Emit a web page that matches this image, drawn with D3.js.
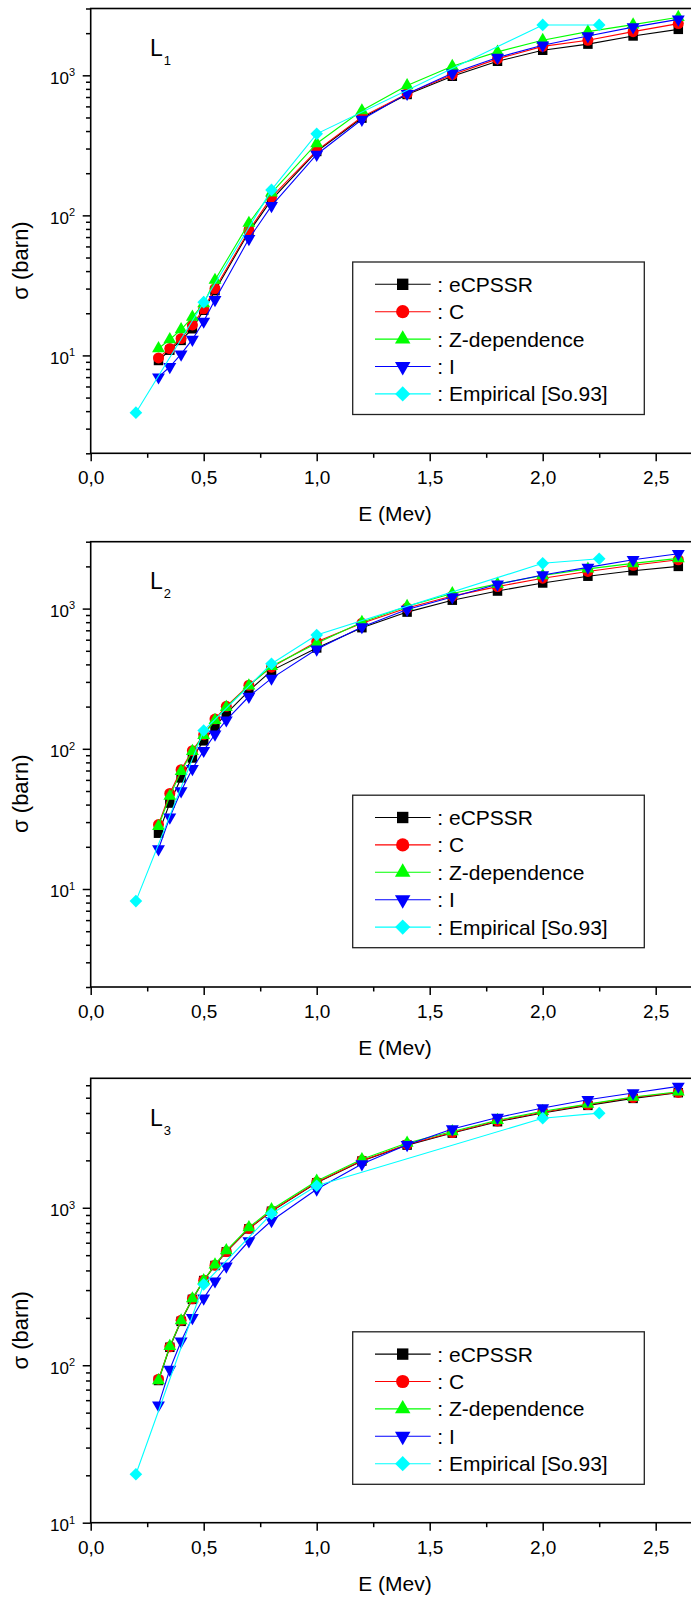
<!DOCTYPE html>
<html>
<head>
<meta charset="utf-8">
<script src="https://cdn.jsdelivr.net/npm/d3@7"></script>
<style>
  body { margin: 0; background: #fff; }
  svg { display: block; font-family: 'Liberation Sans', Arial, sans-serif; }
</style>
</head>
<body>
<div id="chart"></div>
<script>
// L-subshell ionisation cross sections vs proton energy, three panels (L1, L2, L3)

// energies (MeV)
var energiesL1 = [0.3, 0.35, 0.4, 0.45, 0.5, 0.55, 0.7, 0.8, 1.0, 1.2, 1.4, 1.6, 1.8, 2.0, 2.2, 2.4, 2.6]
var energiesL23 = [0.3, 0.35, 0.4, 0.45, 0.5, 0.55, 0.6, 0.7, 0.8, 1.0, 1.2, 1.4, 1.6, 1.8, 2.0, 2.2, 2.4, 2.6]
var energiesEmp = [0.2, 0.5, 0.8, 1.0, 2.0, 2.25]

var seriesNames = ['eCPSSR', 'C', 'Z-dependence', 'I', 'Empirical [So.93]']
var seriesColours = ['#000000', '#ff0000', '#00ff00', '#0000ff', '#00ffff']

var xTicks = [0, 0.5, 1.0, 1.5, 2.0, 2.5]
var yTicks = [10, 100, 1000]

// L1 (barn)
var l1eCPSSR = [9.2, 10.9, 12.8, 15.5, 21, 29, 76, 129, 286, 495, 730, 985, 1260, 1510, 1670, 1910, 2130]
var l1C = [9.6, 11.2, 13.2, 16.5, 21.5, 30, 78, 135, 290, 505, 740, 1010, 1310, 1610, 1780, 2050, 2340]
var l1Z = [11.2, 13, 15.3, 18.8, 23.5, 34.5, 88, 145, 326, 560, 845, 1160, 1470, 1780, 2050, 2300, 2600]
var l1I = [7.0, 8.3, 10.2, 13, 17.5, 25, 68, 117, 272, 484, 740, 1035, 1340, 1640, 1910, 2210, 2510]
var l1Emp = [3.9, 24, 152, 382, 2290, 2290]

// L2 (barn)
var l2eCPSSR = [25, 41, 62, 86, 114, 144, 178, 259, 361, 524, 731, 944, 1148, 1334, 1523, 1702, 1862, 2000]
var l2C = [28.8, 48, 71, 97, 126, 163, 201, 284, 382, 580, 787, 1010, 1228, 1435, 1648, 1841, 2037, 2230]
var l2Z = [28, 46, 69, 96, 125, 160, 198, 282, 388, 565, 800, 1040, 1280, 1500, 1720, 1920, 2100, 2280]
var l2I = [19.3, 32.5, 50, 72, 97, 127, 160, 236, 318, 513, 740, 984, 1208, 1492, 1734, 1968, 2230, 2460]
var l2Emp = [8.2, 135, 404, 648, 2104, 2267]

// L3 (barn)
var l3eCPSSR = [80, 130, 190, 262, 345, 430, 525, 735, 950, 1440, 1980, 2500, 2980, 3520, 4000, 4470, 4950, 5380]
var l3C = [81.5, 131, 193, 264, 347, 432, 527, 739, 955, 1452, 1995, 2523, 3006, 3558, 4043, 4520, 5012, 5400]
var l3Z = [80, 132, 192, 265, 345, 435, 535, 750, 975, 1480, 2030, 2580, 3050, 3600, 4100, 4550, 5050, 5450]
var l3I = [55.8, 94, 142, 200, 266, 342, 425, 615, 827, 1312, 1897, 2512, 3162, 3744, 4299, 4850, 5350, 5900]
var l3Emp = [20.3, 326, 916, 1380, 3706, 3990]

// panel layout
var panels = [
  { sub: '1', top: 8.5, bottom: 453.3, yDomain: [2, 3000],
    xs: [energiesL1, energiesL1, energiesL1, energiesL1, energiesEmp],
    ys: [l1eCPSSR, l1C, l1Z, l1I, l1Emp] },
  { sub: '2', top: 541.7, bottom: 987, yDomain: [2, 3000],
    xs: [energiesL23, energiesL23, energiesL23, energiesL23, energiesEmp],
    ys: [l2eCPSSR, l2C, l2Z, l2I, l2Emp] },
  { sub: '3', top: 1078.3, bottom: 1522.7, yDomain: [10, 6640],
    xs: [energiesL23, energiesL23, energiesL23, energiesL23, energiesEmp],
    ys: [l3eCPSSR, l3C, l3Z, l3I, l3Emp] }
]

var width = 691
var height = 1598
var left = 90.7
var xMax = 2.7

var svg = d3.select('#chart')
  .append('svg')
  .attr('width', width)
  .attr('height', height)

svg.append('rect')
  .attr('width', width)
  .attr('height', height)
  .attr('fill', '#fff')

// x scale shared by the three panels
var x = d3.scaleLinear()
  .domain([0, xMax])
  .range([left, left + xMax * 226])

var xMinor = d3.range(0.25, xMax, 0.5)

// marker for each series
var marker = function (i, scale) {
  var k = scale || 1
  if (i === 0) return d3.symbol(d3.symbolSquare, 90 * k * k)()
  if (i === 1) return d3.symbol(d3.symbolCircle, 95 * k * k)()
  if (i === 2 || i === 3) return d3.symbol(d3.symbolTriangle, 72 * k * k)()
  return d3.symbol(d3.symbolSquare, 80 * k * k)()
}
var markerRotate = function (i) {
  if (i === 3) return ' rotate(180)'
  if (i === 4) return ' rotate(45)'
  return ''
}

var drawPanel = function (p) {
  var y = d3.scaleLog()
    .domain(p.yDomain)
    .range([p.bottom, p.top])

  var g = svg.append('g')

  // minor y ticks (2..9 of each decade)
  var yMinor = []
  for (var dec = 1; dec <= 10000; dec *= 10) {
    for (var m = 2; m <= 9; m++) {
      var v = m * dec
      if (v >= p.yDomain[0] && v <= p.yDomain[1]) yMinor.push(v)
    }
  }

  g.append('g')
    .attr('transform', 'translate(' + left + ',0)')
    .call(d3.axisLeft(y).tickValues(yMinor).tickSize(4.7).tickSizeOuter(0).tickFormat(''))
    .call(function (a) { a.select('.domain').remove() })
    .selectAll('line').attr('stroke-width', 1.5)

  var yAx = g.append('g')
    .attr('transform', 'translate(' + left + ',0)')
    .call(d3.axisLeft(y).tickValues(yTicks).tickSize(8).tickSizeOuter(0).tickFormat(''))
  yAx.select('.domain').remove()
  yAx.selectAll('line').attr('stroke-width', 1.5)

  // 10^n labels
  yAx.selectAll('.tick text')
    .attr('x', -15.7)
    .attr('y', 7.8)
    .attr('dy', null)
    .attr('fill', '#000')
    .style('font-size', '17px')
    .style('text-anchor', 'end')
    .each(function (d) {
      var t = d3.select(this)
      t.append('tspan').text('10')
      t.append('tspan')
        .attr('dy', -7.5)
        .style('font-size', '11px')
        .text(Math.round(Math.log10(d)))
    })

  // x axis
  g.append('g')
    .attr('transform', 'translate(0,' + p.bottom + ')')
    .call(d3.axisBottom(x).tickValues(xMinor).tickSize(4.5).tickSizeOuter(0).tickFormat(''))
    .call(function (a) { a.select('.domain').remove() })
    .selectAll('line').attr('stroke-width', 1.5)

  var xAx = g.append('g')
    .attr('transform', 'translate(0,' + p.bottom + ')')
    .call(d3.axisBottom(x).tickValues(xTicks).tickSize(8).tickSizeOuter(0)
      .tickFormat(function (d) { return d3.format('.1f')(d).replace('.', ',') }))
  xAx.select('.domain').remove()
  xAx.selectAll('line').attr('stroke-width', 1.5)
  xAx.selectAll('text')
    .attr('y', 31)
    .attr('dy', null)
    .attr('fill', '#000')
    .style('font-size', '19px')

  // plot frame
  g.append('rect')
    .attr('x', left)
    .attr('y', p.top)
    .attr('width', x(xMax) - left)
    .attr('height', p.bottom - p.top)
    .attr('fill', 'none')
    .attr('stroke', '#000')
    .attr('stroke-width', 1.6)

  // axis titles
  g.append('text')
    .attr('x', 395)
    .attr('y', p.bottom + 68)
    .style('text-anchor', 'middle')
    .style('font-size', '21px')
    .text('E (Mev)')

  g.append('text')
    .attr('transform', 'translate(28,' + (p.top + 252) + ') rotate(-90)')
    .style('text-anchor', 'middle')
    .style('font-size', '22px')
    .text('\u03c3 (barn)')

  // subshell label
  var lab = g.append('text')
    .attr('x', 150)
    .attr('y', p.top + 47.5)
    .style('font-size', '23px')
  lab.append('tspan').text('L')
  lab.append('tspan').attr('dx', 1).attr('dy', 9).style('font-size', '13px').text(p.sub)

  // series: line then markers, in legend order
  var line = d3.line()
    .x(function (d) { return x(d[0]) })
    .y(function (d) { return y(d[1]) })

  p.ys.forEach(function (vals, i) {
    var pts = vals.map(function (v, j) { return [p.xs[i][j], v] })
    g.append('path')
      .datum(pts)
      .attr('d', line)
      .attr('fill', 'none')
      .attr('stroke', seriesColours[i])
      .attr('stroke-width', 1.1)

    g.selectAll(null)
      .data(pts)
      .enter()
      .append('path')
      .attr('d', marker(i))
      .attr('transform', function (d) {
        return 'translate(' + x(d[0]) + ',' + y(d[1]) + ')' + markerRotate(i)
      })
      .attr('fill', seriesColours[i])
  })

  // legend
  var lg = g.append('g')
    .attr('transform', 'translate(352.7,' + (p.top + 253.5) + ')')
  lg.append('rect')
    .attr('width', 291.6)
    .attr('height', 152.5)
    .attr('fill', '#fff')
    .attr('stroke', '#222')
    .attr('stroke-width', 1.3)

  var row = lg.selectAll('.legend')
    .data(seriesNames)
    .enter().append('g')
    .attr('class', 'legend')
    .attr('transform', function (d, i) { return 'translate(0,' + (22.3 + i * 27.4) + ')' })

  row.append('line')
    .attr('x1', 22.3)
    .attr('x2', 78)
    .attr('stroke', function (d, i) { return seriesColours[i] })
    .attr('stroke-width', 1.1)
  row.append('path')
    .attr('d', function (d, i) { return marker(i, 1.2) })
    .attr('transform', function (d, i) { return 'translate(50,0)' + markerRotate(i) })
    .attr('fill', function (d, i) { return seriesColours[i] })
  row.append('text')
    .attr('x', 84.6)
    .attr('y', 7.4)
    .style('font-size', '21px')
    .text(function (d) { return ': ' + d })
}

panels.forEach(function (p) { drawPanel(p) })
</script>
</body>
</html>
